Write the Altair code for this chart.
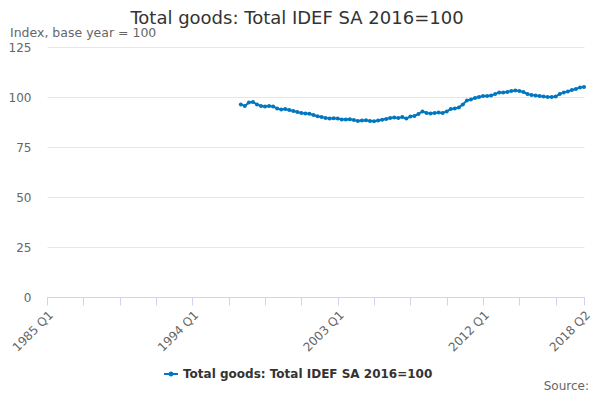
import json
import altair as alt
import pandas as pd

# ---- data ----
all_quarters = [f"{y} Q{q}" for y in range(1985, 2019) for q in range(1, 5)][:134]  # 1985 Q1 .. 2018 Q2
series_start = "1997 Q1"
values = [
    96.3, 95.5, 97.3, 97.5, 96.3, 95.5, 95.3, 95.5,   # 1997-1998
    95.2, 94.3, 93.8, 94.0, 93.5, 93.0, 92.5, 92.0,   # 1999-2000
    91.8, 91.6, 91.0, 90.4, 90.0, 89.5, 89.3, 89.4,   # 2001-2002
    89.2, 88.8, 88.8, 88.9, 88.5, 88.0, 88.2, 88.4,   # 2003-2004
    88.0, 87.9, 88.2, 88.6, 89.0, 89.5, 89.8, 89.5,   # 2005-2006
    90.0, 89.2, 90.3, 90.5, 91.5, 92.8, 92.0, 91.8,   # 2007-2008
    92.0, 92.2, 92.0, 92.8, 94.0, 94.3, 94.8, 96.3,   # 2009-2010
    98.3, 98.8, 99.5, 100.0, 100.5, 100.5, 100.7, 101.5,  # 2011-2012
    102.2, 102.3, 102.5, 103.0, 103.2, 103.0, 102.5, 101.5,  # 2013-2014
    101.0, 100.8, 100.5, 100.3, 100.0, 100.0, 100.2, 101.5,  # 2015-2016
    102.3, 102.8, 103.5, 104.0, 104.8, 105.0,          # 2017-2018 Q2
]
series_name = "Total goods: Total IDEF SA 2016=100"
title_text = "Total goods: Total IDEF SA 2016=100"
subtitle_text = "Index, base year = 100"
source_text = "Source:"
y_ticks = [0, 25, 50, 75, 100, 125]
tick_quarters = all_quarters[::9] + [all_quarters[-1]]
label_quarters = ["1985 Q1", "1994 Q1", "2003 Q1", "2012 Q1", "2018 Q2"]

start = all_quarters.index(series_start)
df = pd.DataFrame({
    "quarter": all_quarters[start:start + len(values)],
    "value": values,
    "series": series_name,
})

COLOR = "#0077c0"
GREY = "#666666"
FONT = "DejaVu Sans"

x_enc = alt.X(
    "quarter:O",
    scale=alt.Scale(type="point", domain=all_quarters, padding=0),
    axis=alt.Axis(
        values=tick_quarters,
        labelExpr=f"indexof({json.dumps(label_quarters)}, datum.value) >= 0 ? datum.value : ''",
        labelAngle=-45,
        labelAlign="right",
        labelBaseline="top",
        labelOverlap=False,
        labelBound=False,
        labelPadding=4,
        labelColor=GREY,
        labelFontSize=12,
        title=None,
        grid=False,
        domainColor="#ccd6eb",
        tickColor="#ccd6eb",
        tickSize=8,
    ),
)
y_enc = alt.Y(
    "value:Q",
    scale=alt.Scale(domain=[0, 125]),
    axis=alt.Axis(
        values=y_ticks,
        title=None,
        domain=False,
        ticks=False,
        labelPadding=16,
        labelColor=GREY,
        labelFontSize=12,
        gridColor="#e6e6e6",
    ),
)
color_enc = alt.Color(
    "series:N",
    scale=alt.Scale(range=[COLOR]),
    legend=alt.Legend(
        orient="none",
        legendX=116,
        legendY=319,
        title=None,
        symbolType="M-1,0L1,0M-0.22,0A0.22,0.22,0,1,0,0.22,0A0.22,0.22,0,1,0,-0.22,0Z",
        symbolSize=196,
        symbolStrokeWidth=2,
        symbolFillColor=COLOR,
        labelFontWeight="bold",
        labelFontSize=12,
        labelColor="#333333",
        labelFont=FONT,
        labelLimit=0,
    ),
)

base = alt.Chart(df)
line = base.mark_line(strokeWidth=2).encode(x=x_enc, y=y_enc, color=color_enc)
points = base.mark_point(filled=True, size=16, opacity=1).encode(x=x_enc, y=y_enc, color=color_enc)

title = alt.Chart(pd.DataFrame({"t": [title_text]})).mark_text(
    fontSize=18, color="#333333", align="center", baseline="alphabetic", font=FONT
).encode(text="t:N", x=alt.value(250), y=alt.value(-23))
subtitle = alt.Chart(pd.DataFrame({"t": [subtitle_text]})).mark_text(
    fontSize=12.5, color=GREY, align="left", baseline="alphabetic", font=FONT
).encode(text="t:N", x=alt.value(-37), y=alt.value(-10))
source = alt.Chart(pd.DataFrame({"t": [source_text]})).mark_text(
    fontSize=12, color=GREY, align="right", baseline="alphabetic", font=FONT
).encode(text="t:N", x=alt.value(542), y=alt.value(343))

chart = alt.layer(line, points, title, subtitle, source).properties(
    width=537,
    height=250,
    autosize=alt.AutoSizeParams(type="none"),
    padding={"left": 39, "top": 39, "right": 8, "bottom": 95},
).configure(font=FONT).configure_view(stroke=None)

chart.save("out.html", embed_options={"renderer": "svg", "actions": False})
